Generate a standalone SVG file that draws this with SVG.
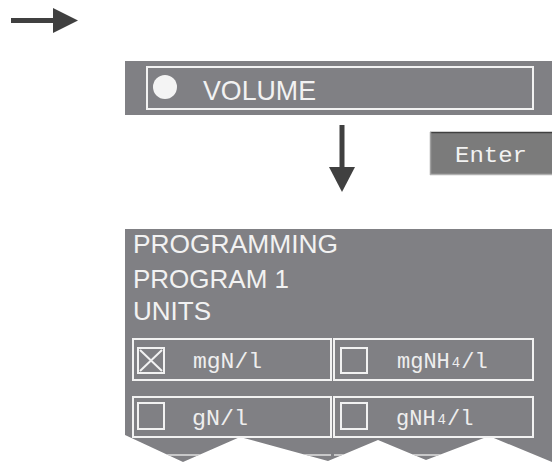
<svg xmlns="http://www.w3.org/2000/svg" width="552" height="466" viewBox="0 0 552 466">
<defs>
<style>
.panel{fill:#808084}
.frame{fill:none;stroke:#f2f2f2;stroke-width:2}
.big{font-family:"Liberation Sans",Arial,sans-serif;fill:#f2f2f2}
.mono{font-family:"Liberation Mono","DejaVu Sans Mono",monospace;fill:#eeeeee;font-size:22px}
.arrow{fill:#404040;stroke:none}
</style>
<clipPath id="zig">
<path d="M125,229 H552 V462 L489,436 L426,460 L378,440 L328,461 L240,437 L183,462 L125,435 Z"/>
</clipPath>
</defs>
<g id="connectors">
<rect class="arrow" x="11" y="18" width="44" height="5"/>
<polygon class="arrow" points="53,8 78,20.5 53,33"/>
<rect class="arrow" x="339.5" y="125" width="5" height="45"/>
<polygon class="arrow" points="329,167 355,167 342,192"/>
</g>
<g id="volume">
<rect class="panel" x="125" y="61" width="427" height="54"/>
<rect class="frame" x="147" y="67" width="386" height="42"/>
<circle cx="165" cy="87" r="12" fill="#f4f4f4"/>
<text class="big" x="203" y="100" font-size="28" textLength="113" lengthAdjust="spacingAndGlyphs">VOLUME</text>
</g>
<g id="enter">
<rect x="430" y="132" width="122" height="43" fill="#7b7b7b"/>
<line x1="430" y1="132.5" x2="552" y2="132.5" stroke="#404040" stroke-width="1.5"/>
<line x1="430.5" y1="132" x2="430.5" y2="175" stroke="#a0a0a0" stroke-width="1.5"/>
<line x1="430" y1="174.5" x2="552" y2="174.5" stroke="#b0b0b0" stroke-width="1.5"/>
<text x="455" y="162" font-family="'Liberation Mono','Courier New',monospace" font-size="22" fill="#f2f2f2" textLength="72" lengthAdjust="spacingAndGlyphs">Enter</text>
</g>
<g id="programming">
<g clip-path="url(#zig)">
<rect class="panel" x="125" y="229" width="427" height="237"/>
<line x1="133" y1="455" x2="331" y2="455" stroke="#e0e0e0" stroke-width="1.5"/>
<line x1="334" y1="455" x2="533" y2="455" stroke="#e0e0e0" stroke-width="1.5"/>
</g>
<text class="big" x="133" y="253" font-size="26" textLength="205" lengthAdjust="spacingAndGlyphs">PROGRAMMING</text>
<text class="big" x="133" y="288" font-size="26">PROGRAM 1</text>
<text class="big" x="133" y="320" font-size="26">UNITS</text>
<g id="opt-mgN">
<rect class="frame" x="133" y="339" width="198" height="41" stroke-width="1.5"/>
<rect class="frame" x="138" y="348" width="26" height="25" stroke-width="2.5"/>
<path d="M140,350 L162,371 M162,350 L140,371" stroke="#f2f2f2" stroke-width="2"/>
<text class="mono" x="193" y="368" textLength="69" lengthAdjust="spacingAndGlyphs">mgN/l</text>
</g>
<g id="opt-mgNH4">
<rect class="frame" x="334" y="339" width="199" height="41" stroke-width="1.5"/>
<rect class="frame" x="341" y="348" width="26" height="25" stroke-width="2.5"/>
<text class="mono" x="397" y="368">mgNH<tspan font-size="14" dx="2" dy="-1">4</tspan><tspan dx="1" dy="1">/l</tspan></text>
</g>
<g id="opt-gN">
<rect class="frame" x="133" y="397" width="198" height="40" stroke-width="1.5"/>
<rect class="frame" x="138" y="403" width="26" height="26" stroke-width="2.5"/>
<text class="mono" x="192" y="425" textLength="56" lengthAdjust="spacingAndGlyphs">gN/l</text>
</g>
<g id="opt-gNH4">
<rect class="frame" x="334" y="397" width="199" height="40" stroke-width="1.5"/>
<rect class="frame" x="341" y="403" width="26" height="26" stroke-width="2.5"/>
<text class="mono" x="396" y="425">gNH<tspan font-size="14" dx="2" dy="-1">4</tspan><tspan dx="1" dy="1">/l</tspan></text>
</g>
</g>
</svg>
